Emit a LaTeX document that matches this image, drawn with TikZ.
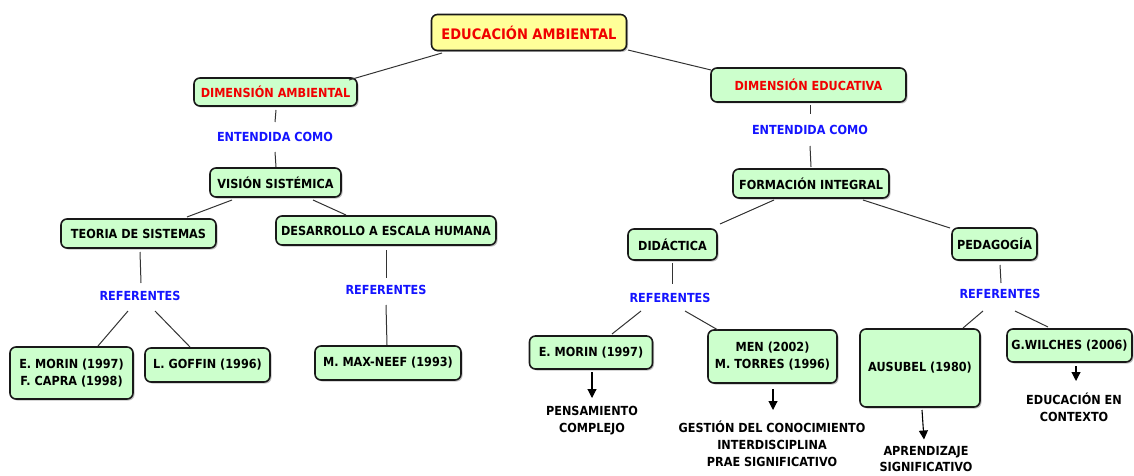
\documentclass[tikz,border=0pt]{standalone}
\usepackage{fontspec}
\setmainfont{DejaVu Sans}[FakeStretch=0.9]
\usetikzlibrary{shadows,arrows.meta,calc}
\definecolor{boxgreen}{RGB}{204,255,204}
\definecolor{boxyellow}{RGB}{255,255,153}
\definecolor{titlered}{RGB}{240,0,0}
\definecolor{lblblue}{RGB}{20,20,255}
\begin{document}
\begin{tikzpicture}[x=1pt,y=-1pt,
  every node/.style={font=\fontsize{12.5}{17}\selectfont\bfseries, align=center},
  box/.style={draw=black!90, line width=1.6pt, rounded corners=6pt, fill=boxgreen, inner sep=2pt,
    drop shadow={shadow xshift=1.5pt,shadow yshift=-1.5pt,fill=black!50,opacity=0.5}},
  redtxt/.style={text=titlered},
  lbl/.style={text=lblblue, inner sep=0pt},
  txt/.style={text=black, inner sep=0pt},
  conn/.style={draw=black!80, line width=1pt},
  arr/.style={draw=black, line width=1.1pt, -{Triangle[length=9pt,width=9pt]}}]
\useasboundingbox (0,0) rectangle (1134,476);

% nodes
\node[box, fill=boxyellow, redtxt, minimum width=195pt, minimum height=36pt, font=\fontsize{14.5}{17}\selectfont\bfseries] (ea) at (529,32.5) {EDUCACIÓN AMBIENTAL};
\node[box, redtxt, minimum width=163pt, minimum height=28pt] (da) at (275.5,92) {DIMENSIÓN AMBIENTAL};
\node[box, redtxt, minimum width=195pt, minimum height=34pt] (de) at (808.5,85) {DIMENSIÓN EDUCATIVA};
\node[lbl] (ec1) at (275,137) {ENTENDIDA COMO};
\node[lbl] (ec2) at (810,130) {ENTENDIDA COMO};
\node[box, minimum width=131pt, minimum height=29pt] (vs) at (275.5,182.5) {VISIÓN SISTÉMICA};
\node[box, minimum width=156pt, minimum height=29pt] (fi) at (811,183.5) {FORMACIÓN INTEGRAL};
\node[box, minimum width=155pt, minimum height=29pt] (ts) at (138.5,233.5) {TEORIA DE SISTEMAS};
\node[box, minimum width=220pt, minimum height=29pt] (dh) at (386,230.5) {DESARROLLO A ESCALA HUMANA};
\node[box, minimum width=89pt, minimum height=31pt] (did) at (672.5,244.5) {DIDÁCTICA};
\node[box, minimum width=85pt, minimum height=32pt] (ped) at (994.5,244) {PEDAGOGÍA};
\node[lbl] (ref1) at (140,296) {REFERENTES};
\node[lbl] (ref2) at (386,290) {REFERENTES};
\node[lbl] (ref3) at (670,298) {REFERENTES};
\node[lbl] (ref4) at (1000,294) {REFERENTES};
\node[box, minimum width=123pt, minimum height=52pt] (em1) at (71.5,373) {E. MORIN (1997)\\F. CAPRA (1998)};
\node[box, minimum width=125pt, minimum height=34pt] (lg) at (207.5,365) {L. GOFFIN (1996)};
\node[box, minimum width=146pt, minimum height=34pt] (mn) at (388,363) {M. MAX-NEEF (1993)};
\node[box, minimum width=123pt, minimum height=33pt] (em2) at (591,352.5) {E. MORIN (1997)};
\node[box, minimum width=129pt, minimum height=53pt] (men) at (772.5,356.5) {MEN (2002)\\M. TORRES (1996)};
\node[box, minimum width=120pt, minimum height=78pt] (aus) at (920,368) {AUSUBEL (1980)};
\node[box, minimum width=125pt, minimum height=33pt] (gw) at (1069.5,345.5) {G.WILCHES (2006)};
\node[txt] (pc) at (592,421) {PENSAMIENTO\\COMPLEJO};
\node[txt] (gc) at (772,444) {GESTIÓN DEL CONOCIMIENTO\\INTERDISCIPLINA\\PRAE SIGNIFICATIVO};
\node[txt, font=\fontsize{12.5}{16}\selectfont\bfseries] (ap) at (926,459.5) {APRENDIZAJE\\SIGNIFICATIVO};
\node[txt] (edc) at (1074,407) {EDUCACIÓN EN\\CONTEXTO};

% connectors
\draw[conn] ($(ea)+(-87,20.5)$) -- ($(da)+(73.5,-12)$);
\draw[conn] ($(ea)+(99,17.5)$) -- ($(de)+(-97.5,-15)$);
\draw[conn] ($(da)+(0.5,18)$) -- ($(ec1)+(0,-15)$);
\draw[conn] ($(ec1)+(0,15)$) -- ($(vs)+(0.5,-15.5)$);
\draw[conn] ($(vs)+(-43.5,17.5)$) -- ($(ts)+(48.5,-16.5)$);
\draw[conn] ($(vs)+(37.5,17.5)$) -- ($(dh)+(-40,-15.5)$);
\draw[conn] ($(ts)+(1.5,18.5)$) -- ($(ref1)+(1,-13)$);
\draw[conn] ($(ref1)+(-12,15)$) -- ($(em1)+(26.5,-27)$);
\draw[conn] ($(ref1)+(15,15)$) -- ($(lg)+(-17.5,-18)$);
\draw[conn] ($(dh)+(0,19.5)$) -- ($(ref2)+(0,-12)$);
\draw[conn] ($(ref2)+(0,15)$) -- ($(mn)+(-1,-18)$);
\draw[conn] ($(de)+(1.5,20)$) -- ($(ec2)+(0,-16)$);
\draw[conn] ($(ec2)+(0,16)$) -- ($(fi)+(0,-16.5)$);
\draw[conn] ($(fi)+(-37,16.5)$) -- ($(did)+(47.5,-20.5)$);
\draw[conn] ($(fi)+(52,16.5)$) -- ($(ped)+(-44.5,-16)$);
\draw[conn] ($(did)+(-0.5,18.5)$) -- ($(ref3)+(2,-14)$);
\draw[conn] ($(ref3)+(-29,13)$) -- ($(em2)+(21,-18.5)$);
\draw[conn] ($(ref3)+(15,13)$) -- ($(men)+(-54.5,-26.5)$);
\draw[conn] ($(ped)+(5.5,21)$) -- ($(ref4)+(1,-11)$);
\draw[conn] ($(ref4)+(-17,17)$) -- ($(aus)+(43,-40)$);
\draw[conn] ($(ref4)+(15,17)$) -- ($(gw)+(-21.5,-18.5)$);

% arrows
\draw[arr] ($(em2)+(1,19.5)$) -- ($(pc)+(0,-23)$);
\draw[arr] ($(men)+(0.5,32.5)$) -- ($(gc)+(1,-34)$);
\draw[arr] ($(aus)+(2,42)$) -- ($(ap)+(-2,-20)$);
\draw[arr] ($(gw)+(6.5,20.5)$) -- ($(edc)+(2,-26)$);
\end{tikzpicture}
\end{document}
